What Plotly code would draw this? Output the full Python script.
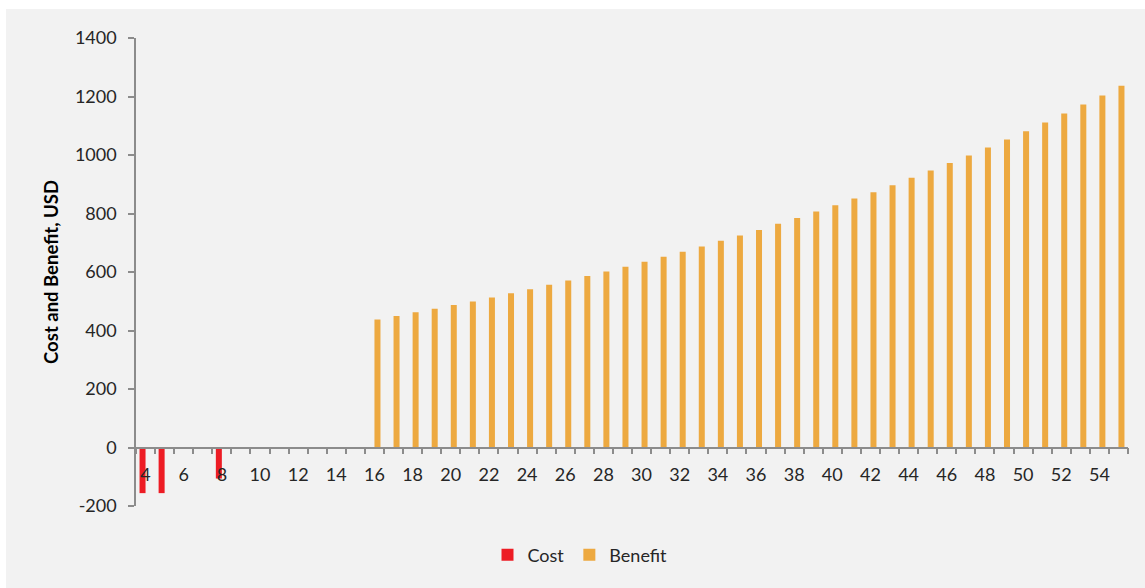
import plotly.graph_objects as go

# ---- data ----
years = list(range(4, 56))  # categories 4..55
cost_vals = {4: -156, 5: -156, 8: -106}
benefit_list = [438, 450, 462, 474, 487, 499, 513, 527, 541, 556, 571, 586, 602, 618,
                635, 652, 669, 687, 707, 725, 744, 765, 785, 807, 828, 851, 873, 897,
                922, 947, 973, 998, 1026, 1053, 1081, 1111, 1142, 1173, 1203, 1237]
benefit_start = 16

cost = [cost_vals.get(y) for y in years]
benefit = [None] * (benefit_start - years[0]) + benefit_list

x_tick_vals = list(range(4, 55, 2))
x_tick_text = [str(v) for v in x_tick_vals]
y_tick_vals = list(range(-200, 1401, 200))
y_tick_text = [str(v) for v in y_tick_vals]

RED = "#ED1C24"
ORANGE = "#EDA940"
AXIS = "#8C8C8C"
TEXT = "#262626"
FONT = "Lato"

fig = go.Figure()
fig.add_trace(go.Bar(x=years, y=cost, name="Cost", marker=dict(color=RED, line=dict(width=0))))
fig.add_trace(go.Bar(x=years, y=benefit, name="Benefit", marker=dict(color=ORANGE, line=dict(width=0))))

W, H = 1145, 588
L, R, T, B = 136, 17, 38, 82
pw, ph = W - L - R, H - T - B

def px_x(px):
    return (px - L) / pw

def px_y(py):
    return (H - B - py) / ph

shapes = [
    dict(type="rect", xref="paper", yref="paper", x0=px_x(-5), x1=px_x(W + 5),
         y0=px_y(9), y1=px_y(-5), fillcolor="white", line=dict(width=0), layer="below"),
    dict(type="rect", xref="paper", yref="paper", x0=px_x(-5), x1=px_x(6),
         y0=px_y(H + 5), y1=px_y(-5), fillcolor="white", line=dict(width=0), layer="below"),
]

fig.update_layout(
    width=W, height=H,
    margin=dict(l=L, r=R, t=T, b=B),
    paper_bgcolor="#F2F2F2",
    plot_bgcolor="rgba(0,0,0,0)",
    barmode="group",
    bargap=0.37,
    bargroupgap=0,
    font=dict(family=FONT, size=18, color=TEXT),
    shapes=shapes,
    showlegend=True,
    legend=dict(orientation="h", x=px_x(580), xanchor="center", y=px_y(555), yanchor="middle",
                font=dict(family=FONT, size=18, color=TEXT), itemwidth=30,
                bgcolor="rgba(0,0,0,0)"),
    xaxis=dict(
        range=[3.5, 55.5],
        anchor="free", position=200 / 1600,
        showline=True, linecolor=AXIS, linewidth=1.5,
        showgrid=False, zeroline=False,
        tickmode="array", tickvals=x_tick_vals, ticktext=x_tick_text,
        ticks="outside", ticklen=11, tickcolor="rgba(0,0,0,0)",
        tickfont=dict(family=FONT, size=18, color=TEXT),
        minor=dict(tickmode="array", tickvals=[3.5 + i for i in range(53)],
                   ticks="outside", ticklen=6, tickcolor=AXIS, tickwidth=1.5, showgrid=False),
    ),
    yaxis=dict(
        range=[-200, 1400],
        showline=True, linecolor=AXIS, linewidth=1.5,
        showgrid=False, zeroline=False,
        tickmode="array", tickvals=y_tick_vals, ticktext=y_tick_text,
        ticks="outside", ticklen=6, tickcolor=AXIS, tickwidth=1.5,
        ticklabelstandoff=8,
        tickfont=dict(family=FONT, size=18, color=TEXT),
        title=dict(text="<b>Cost and Benefit, USD</b>", standoff=11,
                   font=dict(family=FONT, size=18.5, color="#000000")),
    ),
)

fig.write_html("out.html")
